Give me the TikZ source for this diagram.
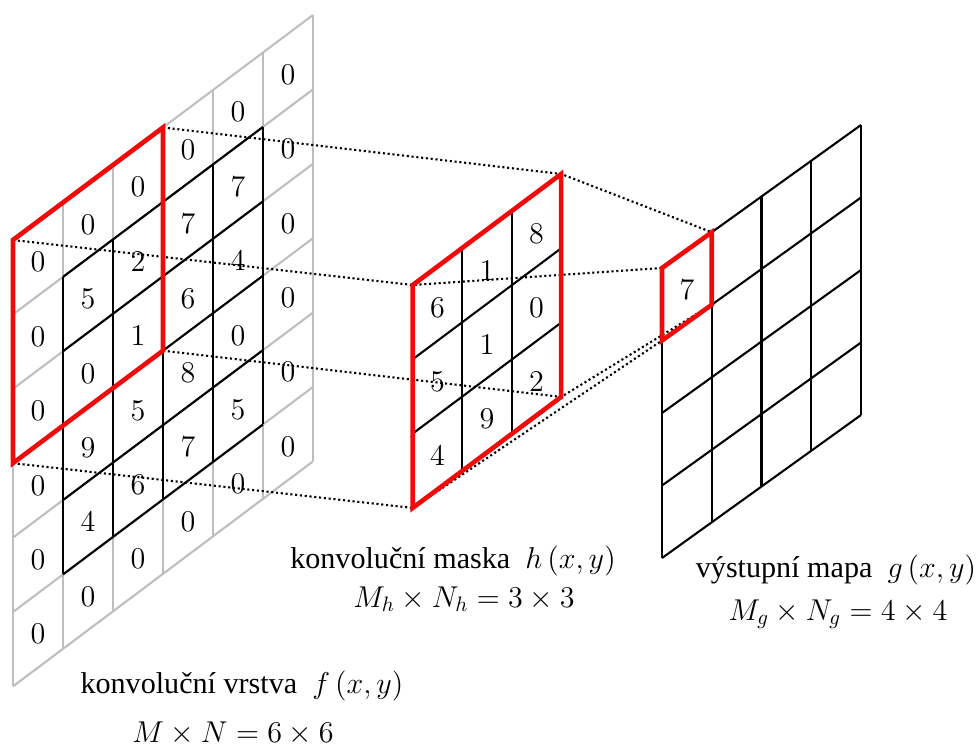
\documentclass[tikz,border=0pt]{standalone}
\usepackage[no-math]{fontspec}
\setmainfont{Liberation Serif}
\definecolor{gridgrey}{RGB}{190,190,190}
\definecolor{framered}{RGB}{240,10,10}
\tikzset{
  gridgray/.style={draw=gridgrey, line width=1pt},
  gridblack/.style={draw=black, line width=1pt},
  redframe/.style={draw=framered, line width=2.2pt, line join=miter},
  conn/.style={draw=black, line width=1pt, dash pattern=on 1pt off 1.3pt},
  num/.style={font=\Large, inner sep=0pt},
  lbl/.style={font=\Large, anchor=base, inner sep=0pt}
}

\begin{document}
\begin{tikzpicture}[x=0.478pt, y=-0.478pt]
  \useasboundingbox (0,0) rectangle (980,747);

  % konvolucni vrstva f(x,y), 6x6
  \begin{scope}[shift={(13,240)}, x={(23.9pt,17.925pt)}, y={(0pt,-35.56pt)}]
    \foreach \k in {0,...,6} {
      \draw[gridgray] (\k,0) -- (\k,6);
      \draw[gridgray] (0,\k) -- (6,\k);
    }
    \foreach \k in {1,...,5} {
      \draw[gridblack] (\k,1) -- (\k,5);
      \draw[gridblack] (1,\k) -- (5,\k);
    }
    \coordinate (f-tl) at (0,0);
    \coordinate (f-tr) at (3,0);
    \coordinate (f-br) at (3,3);
    \coordinate (f-bl) at (0,3);
    \foreach \row [count=\j from 0] in {{0,0,0,0,0,0},{0,5,2,7,7,0},{0,0,1,6,4,0},
                                        {0,9,5,8,0,0},{0,4,6,7,5,0},{0,0,0,0,0,0}} {
      \foreach \v [count=\i from 0] in \row
        \node[num] (f-\i-\j) at (\i+.5,\j+.55) {$\v$};
    }
  \end{scope}

  % konvolucni maska h(x,y), 3x3
  \begin{scope}[shift={(412.7,285)}, x={(23.66pt,17.69pt)}, y={(0pt,-35.52pt)}]
    \foreach \k in {1,2} {
      \draw[gridblack] (\k,0) -- (\k,3);
      \draw[gridblack] (0,\k) -- (3,\k);
    }
    \coordinate (h-tl) at (0,0);
    \coordinate (h-tr) at (3,0);
    \coordinate (h-br) at (3,3);
    \coordinate (h-bl) at (0,3);
    \foreach \row [count=\j from 0] in {{6,1,8},{5,1,0},{4,9,2}} {
      \foreach \v [count=\i from 0] in \row
        \node[num] (h-\i-\j) at (\i+.5,\j+.55) {$\v$};
    }
  \end{scope}

  % vystupni mapa g(x,y), 4x4
  \begin{scope}[shift={(662,268)}, x={(23.78pt,17.09pt)}, y={(0pt,-34.66pt)}]
    \foreach \k in {0,...,4} {
      \draw[gridblack] (\k,0) -- (\k,4);
      \draw[gridblack] (0,\k) -- (4,\k);
    }
    \coordinate (g-tl) at (0,0);
    \coordinate (g-tr) at (1,0);
    \coordinate (g-br) at (1,1);
    \coordinate (g-bl) at (0,1);
    \node[num] (g-0-0) at (.5,.55) {$7$};
  \end{scope}

  % spojnice
  \draw[conn] (f-tl) -- (h-tl) -- (g-tl);
  \draw[conn] (f-tr) -- (h-tr) -- (g-tr);
  \draw[conn] (f-br) -- (h-br) -- (g-br);
  \draw[conn] (f-bl) -- (h-bl) -- (g-bl);

  \draw[redframe] (f-tl) -- (f-tr) -- (f-br) -- (f-bl) -- cycle;
  \draw[redframe] (h-tl) -- (h-tr) -- (h-br) -- (h-bl) -- cycle;
  \draw[redframe] (g-tl) -- (g-tr) -- (g-br) -- (g-bl) -- cycle;

  % popisky
  \node[lbl] (f-name) at (242,693) {konvoluční vrstva~ $f\left(x,y\right)$};
  \node[lbl] (f-size) at (233,742) {$M\times N=6\times 6$};
  \node[lbl] (h-name) at (453,568) {konvoluční maska~ $h\left(x,y\right)$};
  \node[lbl] (h-size) at (464,607) {$M_h\times N_h=3\times 3$};
  \node[lbl] (g-name) at (836,577) {výstupní mapa~ $g\left(x,y\right)$};
  \node[lbl] (g-size) at (838,620) {$M_g\times N_g=4\times 4$};
\end{tikzpicture}
\end{document}
